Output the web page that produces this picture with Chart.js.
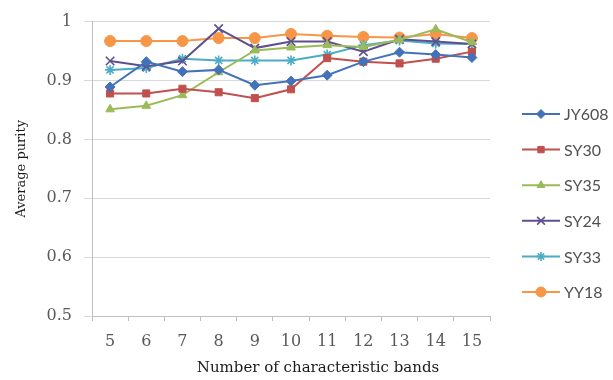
<!DOCTYPE html>
<html>
<head>
<meta charset="utf-8">
<script src="https://cdn.jsdelivr.net/npm/chart.js"></script>
<style>
  html, body { margin: 0; padding: 0; background: #fff; }
  #chart { display: block; }
</style>
</head>
<body>
<canvas id="chart" width="613" height="380"></canvas>
<script>
// data
const bands = ["5", "6", "7", "8", "9", "10", "11", "12", "13", "14", "15"];
const yTicks = [0.5, 0.6, 0.7, 0.8, 0.9, 1];
const yTickLabels = ["0.5", "0.6", "0.7", "0.8", "0.9", "1"];

const jy608 = [0.889, 0.932, 0.915, 0.918, 0.892, 0.899, 0.909, 0.932, 0.948, 0.944, 0.939];
const sy30  = [0.878, 0.878, 0.886, 0.880, 0.870, 0.885, 0.938, 0.932, 0.929, 0.937, 0.949];
const sy35  = [0.851, 0.857, 0.875, 0.914, 0.951, 0.956, 0.960, 0.957, 0.969, 0.987, 0.965];
const sy24  = [0.933, 0.924, 0.933, 0.988, 0.955, 0.966, 0.966, 0.949, 0.970, 0.966, 0.962];
const sy33  = [0.918, 0.921, 0.937, 0.934, 0.934, 0.934, 0.944, 0.960, 0.968, 0.963, 0.962];
const yy18  = [0.967, 0.967, 0.967, 0.972, 0.972, 0.979, 0.976, 0.974, 0.973, 0.979, 0.972];

const seriesNames = ["JY608", "SY30", "SY35", "SY24", "SY33", "YY18"];
const seriesData = [jy608, sy30, sy35, sy24, sy33, yy18];
const colors = ["#4372b8", "#c0504d", "#9bbb59", "#5e4f8f", "#4bacc6", "#f79646"];
const markers = ["rectRot", "rect", "triangle", "crossRot", "star", "circle"];
const markerSize = [5, 5, 5, 6, 5, 5.5];

const xTitle = "Number of characteristic bands";
const serif = "'DejaVu Serif', 'Liberation Serif', serif";

function makeDataset(i) {
    return {
        label: seriesNames[i],
        data: seriesData[i],
        borderColor: colors[i],
        backgroundColor: colors[i],
        borderWidth: 2,
        pointStyle: markers[i],
        pointRadius: markerSize[i],
        pointBorderWidth: (markers[i] === "crossRot" || markers[i] === "star") ? 1.6 : 1,
        pointBorderColor: colors[i],
        pointBackgroundColor: colors[i],
        tension: 0
    };
}

// legend drawn like the excel one: short line with marker, text on the right
// plus the x axis title, which sits right of the plot centre in the original
const sideLegend = {
    id: "sideLegend",
    afterDraw(c) {
        const ctx = c.ctx;
        const top = 114, gap = 35.6;
        ctx.save();
        c.data.datasets.forEach((ds, i) => {
            let y = top + i * gap;
            ctx.strokeStyle = ds.borderColor;
            ctx.lineWidth = 2;
            ctx.beginPath();
            ctx.moveTo(522, y);
            ctx.lineTo(560, y);
            ctx.stroke();
            ctx.fillStyle = ds.backgroundColor;
            ctx.lineWidth = ds.pointBorderWidth;
            if (Chart.helpers && Chart.helpers.drawPoint) {
                Chart.helpers.drawPoint(ctx, {
                    pointStyle: ds.pointStyle,
                    radius: ds.pointRadius - 0.5,
                    rotation: 0,
                    borderWidth: ds.pointBorderWidth
                }, 541, y);
            }
            ctx.fillStyle = "#505050";
            ctx.font = "16px Lato, 'Open Sans', sans-serif";
            ctx.textBaseline = "middle";
            ctx.textAlign = "left";
            ctx.fillText(ds.label, 564, y + 1);
        });

        ctx.fillStyle = "#1a1a1a";
        ctx.font = "15px " + serif;
        ctx.textAlign = "center";
        ctx.textBaseline = "middle";
        ctx.fillText(xTitle, 318, 368);
        ctx.restore();
    }
};

const ctx = document.getElementById("chart");

let chart = new Chart(ctx, {
    type: "line",
    data: {
        labels: bands,
        datasets: seriesNames.map((n, i) => makeDataset(i))
    },
    options: {
        responsive: false,
        animation: false,
        layout: { padding: { left: 0, top: 16, right: 123, bottom: 0 } },
        plugins: {
            legend: { display: false },
            tooltip: { enabled: false }
        },
        scales: {
            x: {
                offset: true,
                grid: {
                    offset: true,
                    drawOnChartArea: false,
                    drawTicks: true,
                    tickLength: 5,
                    color: "#bfbfbf"
                },
                border: { color: "#bfbfbf", width: 1 },
                ticks: {
                    padding: 11,
                    color: "#595959",
                    font: { family: serif, size: 16 }
                },
                title: { display: false },
                afterFit(scale) { scale.height = 64; }
            },
            y: {
                min: 0.5,
                max: 1,
                afterBuildTicks(scale) {
                    scale.ticks = yTicks.map(v => ({ value: v }));
                },
                grid: {
                    color: "#d9d9d9",
                    tickLength: 8,
                    lineWidth: 1
                },
                border: { color: "#bfbfbf", width: 1 },
                ticks: {
                    padding: 12,
                    color: "#595959",
                    font: { family: serif, size: 16 },
                    callback: (v) => {
                        let k = yTicks.findIndex(t => Math.abs(t - v) < 1e-6);
                        return k >= 0 ? yTickLabels[k] : "";
                    }
                },
                title: {
                    display: true,
                    text: "Average purity",
                    color: "#1a1a1a",
                    font: { family: serif, size: 13 },
                    padding: { top: 14, bottom: 0 }
                },
                afterFit(scale) { scale.width = 92; }
            }
        }
    },
    plugins: [sideLegend]
});
</script>
</body>
</html>
